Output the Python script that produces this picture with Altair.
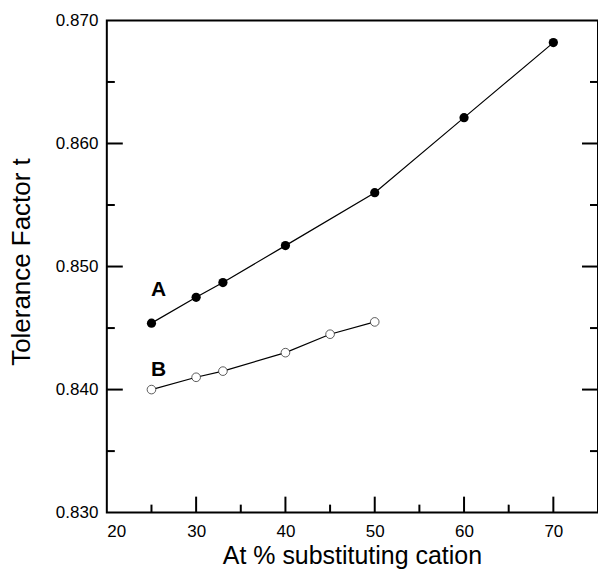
import altair as alt
import pandas as pd

# Series A (filled circles)
a_x = [25, 30, 33, 40, 50, 60, 70]
a_y = [0.8454, 0.8475, 0.8487, 0.8517, 0.8560, 0.8621, 0.8682]
# Series B (open circles)
b_x = [25, 30, 33, 40, 45, 50]
b_y = [0.8400, 0.8410, 0.8415, 0.8430, 0.8445, 0.8455]

# Curve labels
lab_text = ["A", "B"]
lab_x = [25.8, 25.8]
lab_y = [0.8481, 0.8416]

# Tick values
x_major = [30, 40, 50, 60, 70]
x_minor = [25, 35, 45, 55, 65]
y_major = [0.840, 0.850, 0.860]
y_minor = [0.835, 0.845, 0.855, 0.865]
x_labels = [20, 30, 40, 50, 60, 70]
y_labels = [0.830, 0.840, 0.850, 0.860, 0.870]

W, H = 492, 493
FONT = "Liberation Sans"

df = pd.DataFrame(
    {"series": ["A"] * len(a_x) + ["B"] * len(b_x),
     "x": a_x + b_x, "y": a_y + b_y}
)
labs = pd.DataFrame({"t": lab_text, "x": lab_x, "y": lab_y})

xs = alt.Scale(domain=[20, 75], nice=False, zero=False)
ys = alt.Scale(domain=[0.830, 0.870], nice=False, zero=False)

x_axis = alt.Axis(
    values=x_labels, format="d", domain=False, ticks=False, grid=False,
    labelFont=FONT, labelFontSize=17, labelColor="black", labelPadding=11,
    title="At % substituting cation", titleFont=FONT, titleFontSize=25,
    titleFontWeight="normal", titleColor="black", titleX=245.5, titleY=31,
    titleBaseline="top", titleAlign="center",
)
y_axis = alt.Axis(
    values=y_labels, format=".3f", domain=False, ticks=False, grid=False,
    labelFont=FONT, labelFontSize=17, labelColor="black", labelPadding=9,
    title="Tolerance Factor t", titleFont=FONT, titleFontSize=26,
    titleFontWeight="normal", titleColor="black", titleX=-85, titleY=241.5,
    titleBaseline="middle", titleAlign="center", titleAngle=270,
)

base = alt.Chart(df)
line = base.mark_line(color="black", strokeWidth=1.2).encode(
    x=alt.X("x:Q", scale=xs, axis=x_axis),
    y=alt.Y("y:Q", scale=ys, axis=y_axis),
    detail="series:N",
)
pts_a = base.transform_filter(alt.datum.series == "A").mark_point(
    filled=True, size=85, color="black", opacity=1
).encode(x=alt.X("x:Q", scale=xs), y=alt.Y("y:Q", scale=ys))
pts_b = base.transform_filter(alt.datum.series == "B").mark_point(
    filled=False, size=75, stroke="#333333", fill="white", fillOpacity=1,
    strokeWidth=0.8, opacity=1
).encode(x=alt.X("x:Q", scale=xs), y=alt.Y("y:Q", scale=ys))

text = alt.Chart(labs).mark_text(
    font=FONT, fontSize=21, fontWeight="bold", color="black"
).encode(x=alt.X("x:Q", scale=xs), y=alt.Y("y:Q", scale=ys), text="t:N")


def xticks(vals, length):
    d = pd.DataFrame({"v": vals})
    return alt.Chart(d).mark_rule(color="black", strokeWidth=2).encode(
        x=alt.X("v:Q", scale=xs), y=alt.value(H - length), y2=alt.value(H)
    )


def yticks(vals, length, right=False):
    d = pd.DataFrame({"v": vals})
    if right:
        xa, xb = W - length, W
    else:
        xa, xb = 0, length
    return alt.Chart(d).mark_rule(color="black", strokeWidth=2).encode(
        y=alt.Y("v:Q", scale=ys), x=alt.value(xa), x2=alt.value(xb)
    )


chart = alt.layer(
    line, pts_a, pts_b, text,
    xticks(x_major, 16), xticks(x_minor, 8),
    yticks(y_major, 16), yticks(y_minor, 8),
    yticks(y_major, 16, True), yticks(y_minor, 8, True),
).properties(
    width=W, height=H,
    autosize="none",
    padding={"left": 107, "top": 20, "right": 0, "bottom": 59},
    background="white",
).configure_view(stroke="black", strokeWidth=2)

chart.save("out.html", embed_options={"renderer": "svg", "actions": False})
